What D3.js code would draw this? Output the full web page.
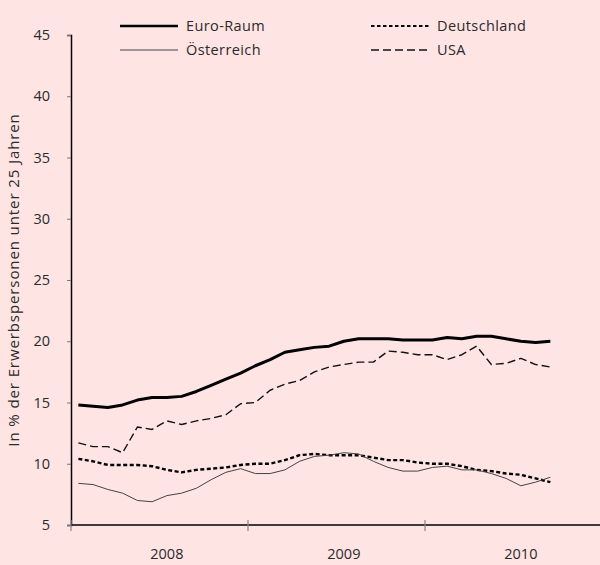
<!DOCTYPE html>
<html>
<head>
<meta charset="utf-8">
<script src="https://cdn.jsdelivr.net/npm/d3@7"></script>
<style>
    body { margin: 0; background: #ffe4e4; }
    svg { display: block; }
    text { font-family: 'Open Sans', 'DejaVu Sans', sans-serif; fill: #2a2a2a; }
</style>
</head>
<body>
<div class="vis-line"></div>
<script>
// monthly data, Jan 2008 - Sep 2010
const months = [
    '2008-01', '2008-02', '2008-03', '2008-04', '2008-05', '2008-06',
    '2008-07', '2008-08', '2008-09', '2008-10', '2008-11', '2008-12',
    '2009-01', '2009-02', '2009-03', '2009-04', '2009-05', '2009-06',
    '2009-07', '2009-08', '2009-09', '2009-10', '2009-11', '2009-12',
    '2010-01', '2010-02', '2010-03', '2010-04', '2010-05', '2010-06',
    '2010-07', '2010-08', '2010-09'
];
const years = ['2008', '2009', '2010'];
const yTicks = [5, 10, 15, 20, 25, 30, 35, 40, 45];

const euroRaum = [14.8, 14.7, 14.6, 14.8, 15.2, 15.4, 15.4, 15.5, 15.9, 16.4, 16.9, 17.4,
    18.0, 18.5, 19.1, 19.3, 19.5, 19.6, 20.0, 20.2, 20.2, 20.2, 20.1, 20.1,
    20.1, 20.3, 20.2, 20.4, 20.4, 20.2, 20.0, 19.9, 20.0];
const deutschland = [10.4, 10.2, 9.9, 9.9, 9.9, 9.8, 9.5, 9.3, 9.5, 9.6, 9.7, 9.9,
    10.0, 10.0, 10.3, 10.7, 10.8, 10.7, 10.7, 10.7, 10.5, 10.3, 10.3, 10.1,
    10.0, 10.0, 9.8, 9.5, 9.4, 9.2, 9.1, 8.8, 8.5];
const oesterreich = [8.4, 8.3, 7.9, 7.6, 7.0, 6.9, 7.4, 7.6, 8.0, 8.7, 9.3, 9.6,
    9.2, 9.2, 9.5, 10.2, 10.6, 10.7, 10.9, 10.8, 10.2, 9.7, 9.4, 9.4,
    9.7, 9.8, 9.5, 9.5, 9.2, 8.8, 8.2, 8.5, 8.9];
const usa = [11.7, 11.4, 11.4, 10.9, 13.0, 12.8, 13.5, 13.2, 13.5, 13.7, 14.0, 14.9,
    15.0, 16.0, 16.5, 16.8, 17.5, 17.9, 18.1, 18.3, 18.3, 19.2, 19.1, 18.9,
    18.9, 18.5, 18.9, 19.6, 18.1, 18.2, 18.6, 18.1, 17.9];

const series = [
    { name: 'Euro-Raum', values: euroRaum, width: 3, dash: null, color: '#000' },
    { name: 'Deutschland', values: deutschland, width: 2.4, dash: '4,2.5', color: '#000' },
    { name: 'Österreich', values: oesterreich, width: 1, dash: null, color: '#444' },
    { name: 'USA', values: usa, width: 1.4, dash: '8,4', color: '#111' }
];

const margin = { top: 35, right: 0, bottom: 40, left: 71 };
const totalWidth = 600;
const totalHeight = 565;
const height = totalHeight - margin.top - margin.bottom;

const svg = d3
    .select('.vis-line')
    .append('svg')
    .attr('width', totalWidth)
    .attr('height', totalHeight);

svg.append('rect')
    .attr('width', totalWidth)
    .attr('height', totalHeight)
    .attr('fill', '#ffe4e4');

const g = svg.append('g')
    .attr('transform', 'translate(' + margin.left + ',' + margin.top + ')');

// x: month index, 12 slots per year, axis runs over three full years
const monthWidth = 14.75;
const x = d3.scaleLinear()
    .domain([-0.5, years.length * 12 - 0.5])
    .range([0, years.length * 12 * monthWidth]);

const y = d3.scaleLinear()
    .domain([5, 45])
    .range([height, 0]);

// Y axis
const yAxis = g.append('g')
    .call(d3.axisLeft(y).tickValues(yTicks).tickSize(4).tickPadding(17));
yAxis.select('.domain').attr('stroke', '#000').attr('stroke-width', 1.5);
yAxis.selectAll('.tick line').attr('stroke', '#777');
yAxis.selectAll('.tick text').style('font-size', '14.5px');

// X axis: year boundaries as ticks, year labels in between
const xAxis = g.append('g')
    .attr('transform', 'translate(0,' + height + ')');
xAxis.append('line')
    .attr('x1', 0)
    .attr('x2', totalWidth)
    .attr('stroke', '#000')
    .attr('stroke-width', 1.3);
xAxis.selectAll('.ytick')
    .data(years)
    .enter()
    .append('line')
    .attr('x1', (d, i) => x(i * 12 - 0.5))
    .attr('x2', (d, i) => x(i * 12 - 0.5))
    .attr('y1', -5)
    .attr('y2', 6)
    .attr('stroke', '#888')
    .attr('stroke-width', 1.2);
xAxis.selectAll('.ylabel')
    .data(years)
    .enter()
    .append('text')
    .attr('x', (d, i) => x(i * 12 + 6))
    .attr('y', 34)
    .attr('text-anchor', 'middle')
    .style('font-size', '14.5px')
    .text((d) => d);

// Y axis label
svg.append('text')
    .attr('transform', 'rotate(-90)')
    .attr('x', -(margin.top + height / 2))
    .attr('y', 19)
    .attr('text-anchor', 'middle')
    .style('font-size', '15px')
    .style('letter-spacing', '0.9px')
    .text('In % der Erwerbspersonen unter 25 Jahren');

// lines
const line = d3.line()
    .x((d, i) => x(i))
    .y((d) => y(d));

g.selectAll('.series')
    .data(series)
    .enter()
    .append('path')
    .attr('d', (d) => line(d.values))
    .attr('fill', 'none')
    .attr('stroke', (d) => d.color)
    .attr('stroke-width', (d) => d.width)
    .attr('stroke-dasharray', (d) => d.dash)
    .attr('stroke-linejoin', 'round');

// legend, two columns
const legend = svg.append('g');
const legendPos = [
    { x: 120, y: 26 },
    { x: 371, y: 26 },
    { x: 120, y: 50 },
    { x: 371, y: 50 }
];
const items = legend.selectAll('.item')
    .data(series)
    .enter()
    .append('g')
    .attr('transform', (d, i) => 'translate(' + legendPos[i].x + ',' + legendPos[i].y + ')');
items.append('line')
    .attr('x1', 0)
    .attr('x2', 58)
    .attr('stroke', (d) => d.color)
    .attr('stroke-width', (d) => (d.width > 2 ? d.width - 0.4 : d.width))
    .attr('stroke-dasharray', (d) => (d.name === 'Deutschland' ? '3.5,2.5' : d.dash));
items.append('text')
    .attr('x', 66)
    .attr('dy', '0.35em')
    .style('font-size', '14.5px')
    .style('letter-spacing', '0.4px')
    .text((d) => d.name);
</script>
</body>
</html>
